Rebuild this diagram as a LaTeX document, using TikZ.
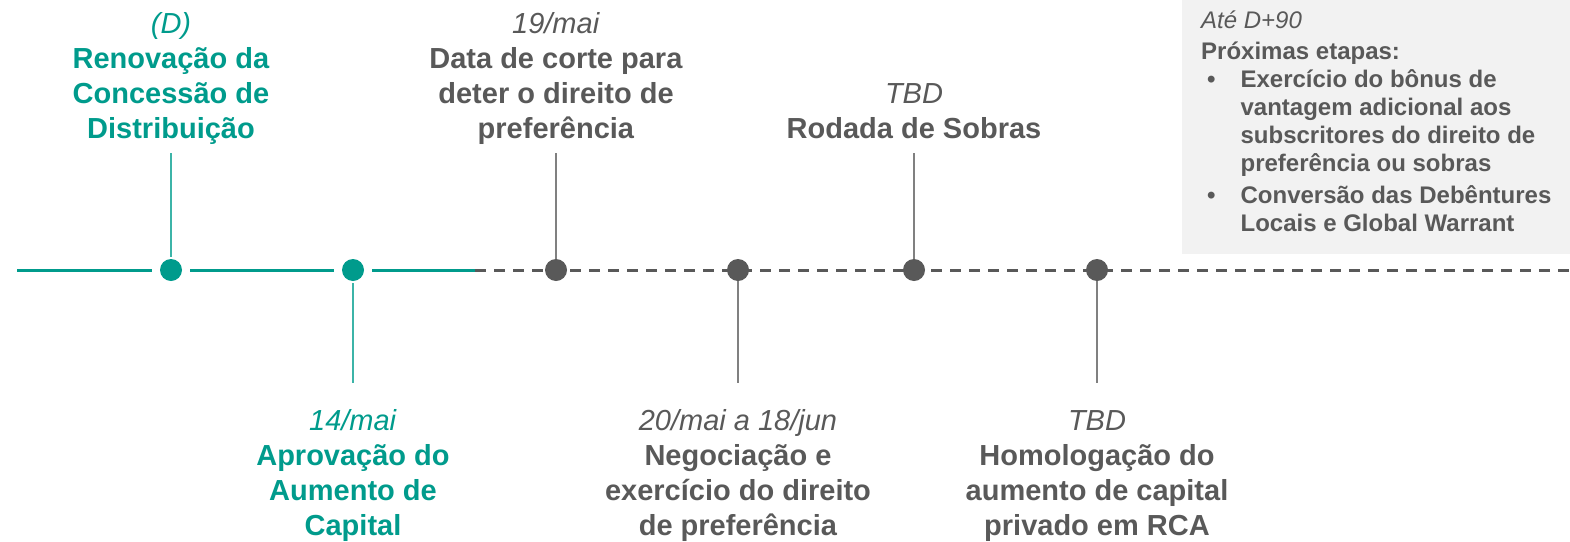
\documentclass[tikz,border=0pt]{standalone}
\usepackage{fontspec}
\setmainfont{Liberation Sans}
\definecolor{tealc}{RGB}{0,155,140}
\definecolor{tealln}{RGB}{60,180,168}
\definecolor{grayc}{RGB}{89,89,89}
\definecolor{grayln}{RGB}{128,128,128}
\definecolor{boxc}{RGB}{242,242,242}
\setlength{\tabcolsep}{0pt}
\tikzset{
  lbl/.style={font=\fontsize{29}{35}\selectfont, inner sep=0pt, anchor=base, align=center},
  tealdot/.style={circle, fill=tealc, minimum size=22pt, inner sep=0pt},
  graydot/.style={circle, fill=grayc, minimum size=22pt, inner sep=0pt},
  tline/.style={draw=tealc, line width=3pt},
  gline/.style={draw=grayc, line width=3pt, dash pattern=on 11pt off 8pt},
  tconn/.style={draw=tealln, line width=1.6pt},
  gconn/.style={draw=grayln, line width=1.6pt},
}
\begin{document}
\begin{tikzpicture}[x=1pt,y=-1pt]
\useasboundingbox (0,0) rectangle (1570,541);
% box
\node[fill=boxc, minimum width=388pt, minimum height=254pt, anchor=north west, inner sep=0pt] (box) at (1182,0) {};
\node[anchor=base west, inner sep=0pt, text=grayc, font=\fontsize{24}{28}\selectfont] (boxtext) at (1201,28) {%
\begin{tabular}[t]{@{}l@{\hspace{25pt}}l@{}}
\multicolumn{2}{@{}l@{}}{\textit{Até D+90}}\\[3pt]
\multicolumn{2}{@{}l@{}}{\textbf{Próximas etapas:}}\\
\hspace*{6pt}\textbf{•} & \textbf{Exercício do bônus de}\\
 & \textbf{vantagem adicional aos}\\
 & \textbf{subscritores do direito de}\\
 & \textbf{preferência ou sobras}\\[4pt]
\hspace*{6pt}\textbf{•} & \textbf{Conversão das Debêntures}\\
 & \textbf{Locais e Global Warrant}
\end{tabular}};
% timeline coordinates
\coordinate (start) at (17,270);
\coordinate (mid) at (475,270);
\coordinate (end) at (1570,270);
% dashed line
\draw[gline] (mid) -- (end);
% dots
\node[tealdot] (d1) at (171,270) {};
\node[tealdot] (d2) at (353,270) {};
\node[graydot] (d3) at (556,270) {};
\node[graydot] (d4) at (738,270) {};
\node[graydot] (d5) at (914,270) {};
\node[graydot] (d6) at (1097,270) {};
% solid teal line
\draw[tline, shorten >=8pt] (start) -- (d1);
\draw[tline, shorten >=8pt, shorten <=8pt] (d1) -- (d2);
\draw[tline, shorten <=8pt] (d2) -- (mid);
% connector ends
\coordinate (c1) at (171,153);
\coordinate (c2) at (353,383);
\coordinate (c3) at (556,153);
\coordinate (c4) at (738,383);
\coordinate (c5) at (914,153);
\coordinate (c6) at (1097,383);
\draw[tconn, shorten >=2pt] (c1) -- (d1);
\draw[tconn, shorten <=2pt] (d2) -- (c2);
\draw[gconn] (c3) -- (d3);
\draw[gconn] (d4) -- (c4);
\draw[gconn] (c5) -- (d5);
\draw[gconn] (d6) -- (c6);
% labels top
\node[lbl, text=tealc] (l1) at (171,138) {\begin{tabular}[b]{@{}c@{}}\textit{(D)}\\ \textbf{Renovação da}\\ \textbf{Concessão de}\\ \textbf{Distribuição}\end{tabular}};
\node[lbl, text=grayc] (l3) at (556,138) {\begin{tabular}[b]{@{}c@{}}\textit{19/mai}\\ \textbf{Data de corte para}\\ \textbf{deter o direito de}\\ \textbf{preferência}\end{tabular}};
\node[lbl, text=grayc] (l5) at (914,138) {\begin{tabular}[b]{@{}c@{}}\textit{TBD}\\ \textbf{Rodada de Sobras}\end{tabular}};
% labels bottom
\node[lbl, text=tealc] (l2) at (353,430) {\begin{tabular}[t]{@{}c@{}}\textit{14/mai}\\ \textbf{Aprovação do}\\ \textbf{Aumento de}\\ \textbf{Capital}\end{tabular}};
\node[lbl, text=grayc] (l4) at (738,430) {\begin{tabular}[t]{@{}c@{}}\textit{20/mai a 18/jun}\\ \textbf{Negociação e}\\ \textbf{exercício do direito}\\ \textbf{de preferência}\end{tabular}};
\node[lbl, text=grayc] (l6) at (1097,430) {\begin{tabular}[t]{@{}c@{}}\textit{TBD}\\ \textbf{Homologação do}\\ \textbf{aumento de capital}\\ \textbf{privado em RCA}\end{tabular}};
\end{tikzpicture}
\end{document}
